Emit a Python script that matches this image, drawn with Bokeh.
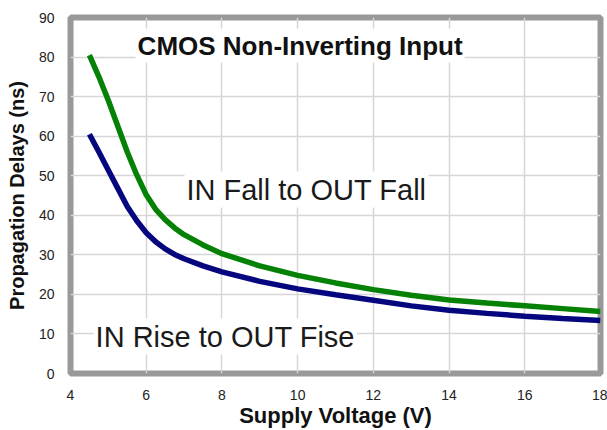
from bokeh.plotting import figure
from bokeh.models import Range1d, FixedTicker, Label
from bokeh.embed import file_html
from bokeh.resources import INLINE

# Data
voltage = [4.5, 4.75, 5.0, 5.25, 5.5, 5.75, 6.0, 6.25, 6.5, 6.75, 7.0, 7.5, 8.0,
           9.0, 10.0, 11.0, 12.0, 13.0, 14.0, 15.0, 16.0, 17.0, 18.0]
fall_delay = [80.5, 75.0, 69.0, 62.5, 56.0, 50.2, 45.2, 41.5, 38.9, 36.8, 35.1, 32.5, 30.3,
              27.2, 24.8, 22.9, 21.2, 19.8, 18.6, 17.8, 17.1, 16.4, 15.7]
rise_delay = [60.5, 56.0, 51.4, 46.8, 42.2, 38.6, 35.6, 33.3, 31.5, 30.1, 29.0, 27.2, 25.7,
              23.3, 21.4, 19.9, 18.5, 17.1, 16.0, 15.2, 14.5, 13.9, 13.4]

x_ticks = [4, 6, 8, 10, 12, 14, 16, 18]
y_ticks = [0, 10, 20, 30, 40, 50, 60, 70, 80, 90]

title_text = "CMOS Non-Inverting Input"
fall_text = "IN Fall to OUT Fall"
rise_text = "IN Rise to OUT Fise"
x_label = "Supply Voltage (V)"
y_label = "Propagation Delays (ns)"

FONT = "Liberation Sans"

p = figure(width=607, height=430, output_backend="svg", toolbar_location=None,
           x_range=Range1d(4, 18), y_range=Range1d(0, 90),
           min_border_left=70, min_border_right=7, min_border_top=17, min_border_bottom=0)

p.background_fill_color = "white"
p.border_fill_color = "white"
p.outline_line_color = "#999999"
p.outline_line_width = 6

for ax in (p.xaxis[0], p.yaxis[0]):
    ax.axis_line_color = None
    ax.major_tick_line_color = None
    ax.minor_tick_line_color = None
    ax.major_label_text_font = FONT
    ax.major_label_text_font_size = "14px"
    ax.major_label_text_color = "#222222"
    ax.axis_label_text_font = FONT
    ax.axis_label_text_font_style = "bold"
    ax.axis_label_text_color = "#111111"
    ax.major_label_standoff = 10

p.xaxis[0].ticker = FixedTicker(ticks=x_ticks)
p.yaxis[0].ticker = FixedTicker(ticks=y_ticks)
p.xaxis[0].axis_label = x_label
p.yaxis[0].axis_label = y_label
p.xaxis[0].axis_label_text_font_size = "22px"
p.yaxis[0].axis_label_text_font_size = "20px"
p.xaxis[0].axis_label_standoff = 0
p.yaxis[0].axis_label_standoff = 8

p.xgrid[0].ticker = FixedTicker(ticks=x_ticks)
p.ygrid[0].ticker = FixedTicker(ticks=y_ticks)
for g in (p.xgrid[0], p.ygrid[0]):
    g.grid_line_color = "#d6d6d6"
    g.grid_line_width = 1.5

p.line(voltage, fall_delay, line_color="#058205", line_width=5.5)
p.line(voltage, rise_delay, line_color="#06067f", line_width=5.5)

p.add_layout(Label(x=5.72, y=82.9, text=title_text, text_font=FONT, text_font_style="bold",
                   text_font_size="26px", text_color="#111111", text_baseline="middle",
                   background_fill_color="white", padding=2))
p.add_layout(Label(x=7.01, y=46.5, text=fall_text, text_font=FONT,
                   text_font_size="29px", text_color="#1a1a1a", text_baseline="middle",
                   background_fill_color="white", padding=2))
p.add_layout(Label(x=4.61, y=9.35, text=rise_text, text_font=FONT,
                   text_font_size="29px", text_color="#1a1a1a", text_baseline="middle",
                   background_fill_color="white", padding=2))

open("out.html", "w").write(file_html(p, INLINE))
